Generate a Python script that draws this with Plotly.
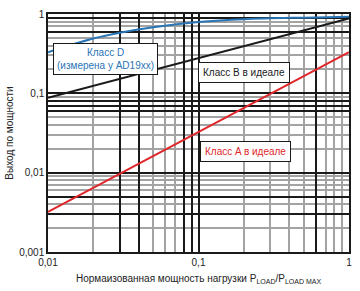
import plotly.graph_objects as go

# ---- data ----
x_line = [0.01, 1.0]
class_a = [0.0032, 0.33]
class_b = [0.088, 0.88]

x_d = [0.01, 0.02, 0.03, 0.05, 0.1, 0.2, 0.5, 1.0]
class_d = [0.33, 0.49, 0.58, 0.68, 0.79, 0.86, 0.90, 0.92]

x_tick_vals = [0.01, 0.1, 1]
x_tick_text = ["0,01", "0,1", "1"]
y_tick_vals = [0.001, 0.01, 0.1, 1]
y_tick_text = ["0,001", "0,01", "0,1", "1"]

# extra grid lines drawn dark vs. light
x_grid_dark = [0.03, 0.04, 0.08, 0.09, 0.6]
x_grid_light = [0.02, 0.05, 0.06, 0.07, 0.2, 0.3, 0.4, 0.5, 0.7, 0.8, 0.9]
y_grid_dark = [0.003, 0.005, 0.06, 0.07, 0.08, 0.6, 0.9]
y_grid_light = [0.002, 0.004, 0.006, 0.007, 0.008, 0.009,
                0.02, 0.03, 0.04, 0.05, 0.09,
                0.2, 0.3, 0.4, 0.5, 0.7, 0.8]

BLUE = "#2a74b6"
RED = "#e0262b"
BLACK = "#1a1a1a"
GRAY = "#a3a3a3"
FONT = "Liberation Sans, Arial, sans-serif"
TXT = "#222222"

fig = go.Figure()
fig.add_trace(go.Scatter(x=x_d, y=class_d, mode="lines", line=dict(color=BLUE, width=2, shape="spline"), hoverinfo="skip"))
fig.add_trace(go.Scatter(x=x_line, y=class_b, mode="lines", line=dict(color=BLACK, width=2), hoverinfo="skip"))
fig.add_trace(go.Scatter(x=x_line, y=class_a, mode="lines", line=dict(color=RED, width=2), hoverinfo="skip"))
# empty trace so the overlay grid axes exist
fig.add_trace(go.Scatter(x=[], y=[], xaxis="x2", yaxis="y2", hoverinfo="skip"))

fig.update_layout(
    width=360, height=291,
    margin=dict(l=45, r=11, t=8, b=39),
    paper_bgcolor="white", plot_bgcolor="white",
    showlegend=False,
    font=dict(family=FONT, size=10, color=TXT),
    xaxis=dict(
        type="log", range=[-2, 0],
        tickmode="array", tickvals=x_tick_vals, ticktext=x_tick_text,
        showgrid=True, gridcolor=BLACK, gridwidth=1.5,
        minor=dict(tickmode="array", tickvals=x_grid_light, showgrid=True,
                   gridcolor=GRAY, gridwidth=1.5, ticks=""),
        ticks="", showline=True, linecolor=BLACK, linewidth=1.5, mirror=True,
        zeroline=False,
        title=dict(text="Нормаизованная мощность нагрузки P<sub>LOAD</sub>/P<sub>LOAD MAX</sub>",
                   font=dict(size=10, color=TXT), standoff=8),
    ),
    yaxis=dict(
        type="log", range=[-3, 0],
        tickmode="array", tickvals=y_tick_vals, ticktext=y_tick_text,
        showgrid=True, gridcolor=BLACK, gridwidth=1.5,
        minor=dict(tickmode="array", tickvals=y_grid_light, showgrid=True,
                   gridcolor=GRAY, gridwidth=1.5, ticks=""),
        ticks="", showline=True, linecolor=BLACK, linewidth=1.5, mirror=True,
        zeroline=False,
        title=dict(text="Выход по мощности", font=dict(size=10, color=TXT), standoff=4),
    ),
    xaxis2=dict(
        type="log", range=[-2, 0], overlaying="x", anchor="y2",
        tickmode="array", tickvals=x_grid_dark, showticklabels=False, ticks="",
        showgrid=True, gridcolor=BLACK, gridwidth=1.5, zeroline=False, showline=False,
    ),
    yaxis2=dict(
        type="log", range=[-3, 0], overlaying="y", anchor="x2",
        tickmode="array", tickvals=y_grid_dark, showticklabels=False, ticks="",
        showgrid=True, gridcolor=BLACK, gridwidth=1.5, zeroline=False, showline=False,
    ),
    annotations=[
        dict(xref="paper", yref="paper", x=0.191, y=0.809, xanchor="center", yanchor="middle",
             showarrow=False,
             text="Класс D<br>(измерена у AD19xx)", font=dict(color=BLUE, size=10),
             bgcolor="white", bordercolor=BLACK, borderwidth=1, borderpad=3),
        dict(xref="paper", yref="paper", x=0.651, y=0.756, xanchor="center", yanchor="middle",
             showarrow=False,
             text="Класс B в идеале", font=dict(color=BLACK, size=10),
             bgcolor="white", bordercolor=BLACK, borderwidth=1, borderpad=4),
        dict(xref="paper", yref="paper", x=0.655, y=0.424, xanchor="center", yanchor="middle",
             showarrow=False,
             text="Класс A в идеале", font=dict(color=RED, size=10),
             bgcolor="white", bordercolor=BLACK, borderwidth=1, borderpad=4),
    ],
)

fig.write_html("out.html")
